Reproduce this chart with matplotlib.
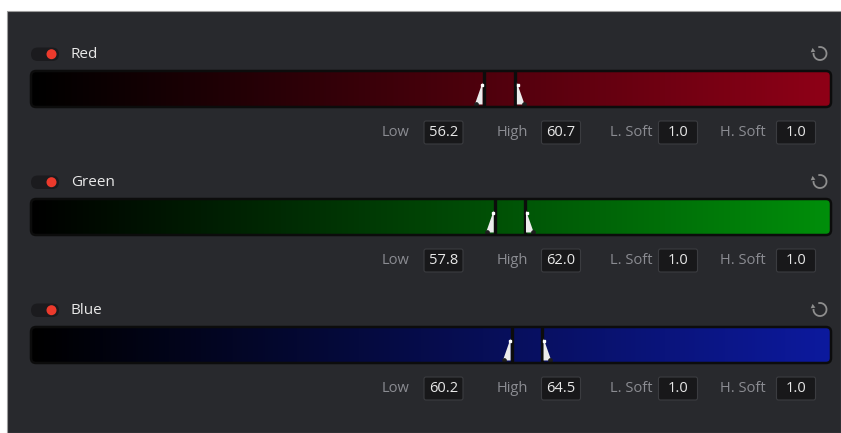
import numpy as np
import matplotlib
matplotlib.use('Agg')
import matplotlib.pyplot as plt
from matplotlib.patches import Rectangle, FancyBboxPatch, Circle, Arc, Polygon

plt.rcParams['font.family'] = ['Open Sans', 'DejaVu Sans']

# data
channels = ['Red', 'Green', 'Blue']
low = [56.2, 57.8, 60.2]
high = [60.7, 62.0, 64.5]
l_soft = [1.0, 1.0, 1.0]
h_soft = [1.0, 1.0, 1.0]
end_colors = [(0.56, 0.0, 0.09), (0.0, 0.56, 0.04), (0.05, 0.10, 0.62)]

W, H = 841, 433
fig = plt.figure(figsize=(W / 100, H / 100), dpi=100)
fig.patch.set_facecolor('white')
ax = fig.add_axes([0, 0, 1, 1])
ax.set_xlim(0, W)
ax.set_ylim(H, 0)
ax.axis('off')

# panel
ax.add_patch(Rectangle((7, 11), W - 7, H - 11, facecolor='#28292d', edgecolor='#9c9c9c', lw=0.8))

bar_x, bar_w, bar_h = 31, 800, 36
# the slider scale in the screenshot is a bit inset from the bar ends
scale_lo, scale_hi = -8.4, 105.7
row_gap = 128
lbl_color = '#8b8c92'
val_color = '#e8e8e8'

for i, name in enumerate(channels):
    dy = i * row_gap
    # toggle + name
    ax.add_patch(FancyBboxPatch((31, 47.5 + dy), 28, 13.5, boxstyle='round,pad=0,rounding_size=6.7',
                                facecolor='#1b1b1e', edgecolor='none'))
    ax.add_patch(Circle((51.5, 54.2 + dy), 5, facecolor='#ec3a2c', edgecolor='none'))
    ax.text(71, 54 + dy, name, color='#e8e8e8', fontsize=11, va='center', ha='left')

    # reset icon
    cx, cy = 820, 53.5 + dy
    ax.add_patch(Arc((cx, cy), 13, 13, theta1=255, theta2=545, color='#8e8e8e', lw=1.3))
    ax.add_patch(Polygon([[cx - 9.3, cy - 1.2], [cx - 4.6, cy - 1.8], [cx - 7.4, cy - 5.6]],
                         closed=True, facecolor='#8e8e8e', edgecolor='none'))

    # gradient bar in its own axes, x = slider value
    top = 71 + dy
    bax = fig.add_axes([bar_x / W, 1 - (top + bar_h) / H, bar_w / W, bar_h / H])
    bax.set_xlim(scale_lo, scale_hi)
    bax.set_ylim(0, 1)
    bax.axis('off')
    t = np.linspace(0, 1, 400)
    grad = np.zeros((1, 400, 3))
    for k in range(3):
        grad[0, :, k] = end_colors[i][k] * t ** 1.05
    clip = FancyBboxPatch((bar_x, top), bar_w, bar_h, boxstyle='round,pad=0,rounding_size=5',
                          transform=ax.transData, facecolor='none', edgecolor='#0c0c0c',
                          lw=1.8, clip_on=False, zorder=5)
    im = bax.imshow(grad, extent=(scale_lo, scale_hi, 0, 1), aspect='auto', interpolation='bilinear')
    im.set_clip_path(clip)
    bax.add_patch(clip)

    # handles
    for v, side in ((low[i], -1), (high[i], 1)):
        bax.axvline(v, color='#0c0c0c', lw=2.4, zorder=3)
        bax.fill([v + side * 0.2, v + side * 1.3, v + side * 0.2], [0.07, 0.07, 0.68],
                 color='#ececec', zorder=4, lw=0)
        bax.plot([v + side * 1.15], [0.09], marker='o', ms=2.4, color='#1e1e1e', zorder=4)
        bax.plot([v + side * 0.3], [0.62], marker='s', ms=1.6, color='#ffffff', zorder=4)

    # numeric fields
    fy = 132.5 + dy
    fields = [('Low', low[i], 396, 443.5), ('High', high[i], 512, 561),
              ('L. Soft', l_soft[i], 631, 678), ('H. Soft', h_soft[i], 743, 796)]
    for lab, val, lx, bx in fields:
        ax.text(lx, fy, lab, color=lbl_color, fontsize=10.5, ha='center', va='center')
        ax.add_patch(FancyBboxPatch((bx - 19.5, fy - 11.5), 39, 23,
                                    boxstyle='round,pad=0,rounding_size=2',
                                    facecolor='#18181a', edgecolor='#3b3c40', lw=0.8))
        ax.text(bx, fy, f'{val:.1f}', color=val_color, fontsize=10.5, ha='center', va='center')

fig.savefig('out.png', dpi=100, facecolor=fig.get_facecolor())
